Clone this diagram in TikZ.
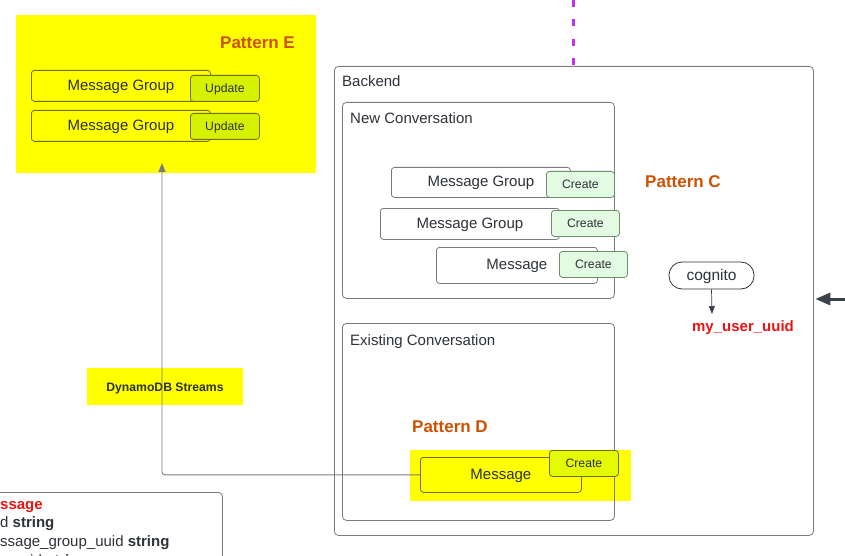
\documentclass[tikz,border=0pt]{standalone}
\usepackage{fontspec}
\setmainfont{Liberation Sans}
\usetikzlibrary{arrows.meta}
\definecolor{txt}{RGB}{45,49,56}
\definecolor{frame}{RGB}{120,124,130}
\definecolor{hiyel}{RGB}{255,255,0}
\definecolor{olive}{RGB}{110,110,30}
\definecolor{upd}{RGB}{215,242,0}
\definecolor{crd}{RGB}{228,250,0}
\definecolor{crg}{RGB}{227,251,227}
\definecolor{crgb}{RGB}{110,140,110}
\definecolor{patt}{RGB}{206,80,0}
\definecolor{uuidred}{RGB}{232,19,19}
\definecolor{purp}{RGB}{192,48,240}
\definecolor{arrowdark}{RGB}{58,65,74}
\tikzset{
  lbl/.style={inner sep=0pt, text height=0.72em, text depth=0pt, text=txt, yshift=-2.5pt},
  container/.style={draw=frame, line width=0.8pt, rounded corners=4pt, anchor=north west, inner sep=0pt},
  mbox/.style={draw=frame, line width=0.8pt, fill=white, rounded corners=3pt, anchor=north west, inner sep=0pt, text height=0.84em, text depth=0pt, text=txt, font=\fontsize{15}{18}\selectfont},
  ybox/.style={mbox, draw=olive, fill=none},
  createbox/.style={draw=crgb, line width=0.8pt, fill=crg, rounded corners=3pt, anchor=north west, inner sep=0pt, minimum width=68pt, minimum height=26pt, text height=0.84em, text depth=0pt, text=txt, font=\fontsize{12.2}{14}\selectfont},
  updbox/.style={createbox, draw=olive, fill=upd},
  crybox/.style={createbox, draw=olive, fill=crd},
  pattern/.style={lbl, anchor=west, text=patt, font=\bfseries\fontsize{17}{20}\selectfont},
  title/.style={lbl, anchor=west, font=\fontsize{15}{18}\selectfont},
  flow/.style={draw=frame, line width=0.9pt, rounded corners=3pt, -{Triangle[width=7pt,length=9pt]}},
}
\begin{document}
\begin{tikzpicture}[x=1pt,y=-1pt]
\useasboundingbox (0,0) rectangle (845,556);
\clip (0,0) rectangle (845,556);

% Pattern E
\node[fill=hiyel, anchor=north west, minimum width=300pt, minimum height=158pt, inner sep=0pt] (pe) at (16,15) {};
\node[pattern] (peT) at (220,42) {Pattern E};
\node[ybox, minimum width=179pt, minimum height=31pt] (pe1) at (31,70) {Message Group};
\node[updbox, minimum width=69pt] (pu1) at (190,75) {Update};
\node[ybox, minimum width=179pt, minimum height=31pt] (pe2) at (31,110) {Message Group};
\node[updbox, minimum width=69pt] (pu2) at (190,113) {Update};

% purple dashed line
\coordinate (ptop) at (573,0);

% Backend
\node[container, minimum width=479pt, minimum height=469pt] (backend) at (334,66) {};
\node[title] (backT) at (342,80) {Backend};
\draw[purp, line width=3pt, dash pattern=on 7pt off 12.3pt] (ptop) -- (ptop |- backend.north);

% New Conversation
\node[container, minimum width=272pt, minimum height=196pt] (newc) at (342,102) {};
\node[title] (newT) at (350,117) {New Conversation};
\node[mbox, minimum width=179pt, minimum height=30pt] (nc1) at (391,167) {Message Group};
\node[createbox] (cr1) at (546,171) {Create};
\node[mbox, minimum width=179pt, minimum height=31pt] (nc2) at (380,208) {Message Group};
\node[createbox] (cr2) at (551,210) {Create};
\node[mbox, minimum width=161pt, minimum height=36pt] (nc3) at (436,247) {Message};
\node[createbox] (cr3) at (559,251) {Create};

\node[pattern] (pcT) at (645,181) {Pattern C};

% cognito
\node[draw=txt, line width=0.8pt, rounded corners=13pt, minimum width=85pt, minimum height=27pt, inner sep=0pt, text height=1.0em, text depth=0pt, text=txt, font=\fontsize{15.5}{18}\selectfont] (cog) at (711.5,275.5) {cognito};
\node[lbl, text=uuidred, font=\bfseries\fontsize{15}{18}\selectfont] (uuid) at (743,325) {my\_user\_uuid};
\coordinate (cogEnd) at (712,314);
\draw[draw=frame!70, line width=0.7pt, -{Triangle[width=6pt,length=8pt]}, arrowdark] (cog.south) -- (cogEnd);

% incoming arrow from right
\coordinate (rin) at (850,299);
\draw[arrowdark, line width=3pt, -{Triangle[width=12pt,length=15pt]}] (rin) -- ([xshift=1.5pt]backend.east |- rin);

% Existing Conversation
\node[fill=hiyel, anchor=north west, minimum width=221pt, minimum height=51pt, inner sep=0pt] (pdbg) at (410,450) {};
\node[container, minimum width=272pt, minimum height=197pt] (exc) at (342,323) {};
\node[title] (exT) at (350,339) {Existing Conversation};
\node[pattern] (pdT) at (412,426) {Pattern D};
\node[ybox, minimum width=161pt, minimum height=35pt] (pdm) at (420,457) {Message};
\node[crybox, minimum width=69pt] (pdc) at (549,450) {Create};

% DynamoDB Streams
\node[fill=hiyel, minimum width=156pt, minimum height=37pt, inner sep=0pt, text height=0.95em, text depth=0pt, text=txt, font=\bfseries\fontsize{12.2}{14}\selectfont] (ddb) at (165,386.5) {DynamoDB Streams};

% stream connector
\coordinate (peIn) at (162,163);
\draw[flow] (pdm.west) -| (peIn);

% bottom-left table (cut off by the page edge)
\node[draw=frame, line width=0.8pt, rounded corners=4pt, anchor=north west, minimum width=240pt, minimum height=100pt, inner sep=0pt] (tbl) at (-18,492) {};
\node[lbl, anchor=west, text=uuidred, font=\bfseries\fontsize{15}{18}\selectfont] (t1) at (0,503) {ssage};
\node[lbl, anchor=west, font=\fontsize{15}{18}\selectfont] (t2) at (0,521) {d \textbf{string}};
\node[lbl, anchor=west, font=\fontsize{15}{18}\selectfont] (t3) at (0,540) {ssage\_group\_uuid \textbf{string}};
\node[lbl, anchor=west, font=\fontsize{15}{18}\selectfont] (t4) at (0,559) {r\_uuid \textbf{string}};
\end{tikzpicture}
\end{document}
